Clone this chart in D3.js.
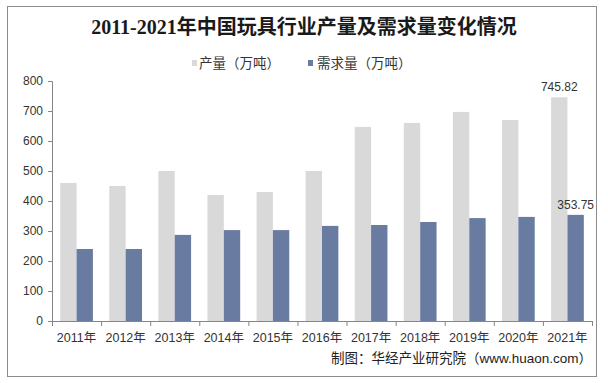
<!DOCTYPE html>
<html><head><meta charset="utf-8">
<script src="https://cdn.jsdelivr.net/npm/d3@7"></script>
<style>body{margin:0;background:#fff}svg{display:block}</style>
</head><body>
<svg id="c" width="608" height="383"></svg>
<script>
const categories = ["2011年","2012年","2013年","2014年","2015年","2016年","2017年","2018年","2019年","2020年","2021年"];
const production = [460, 450, 500, 420, 430, 500, 647, 660, 697, 670, 745.82];
const demand = [240, 240, 287, 303, 303, 317, 320, 330, 343, 347, 353.75];
const seriesNames = ["产量（万吨）", "需求量（万吨）"];
const seriesColors = ["#D9D9D9", "#6A7BA2"];
const yTicks = [0,100,200,300,400,500,600,700,800];
const title = "2011-2021年中国玩具行业产量及需求量变化情况";
const source = "制图：华经产业研究院（www.huaon.com）";

const svg = d3.select("#c");
const sans = "'Liberation Sans', Arial, 'Noto Sans CJK SC', sans-serif";

svg.append("rect").attr("x",7.5).attr("y",6.5).attr("width",589).attr("height",370)
  .attr("fill","#fff").attr("stroke","#8c8c8c").attr("stroke-width",1);

svg.append("text").attr("x",304).attr("y",34).attr("text-anchor","middle")
  .attr("font-family","'Liberation Serif','Noto Sans CJK SC',serif").attr("font-weight","bold")
  .attr("font-size",20).attr("fill","#1a1a1a").text(title);

const y = d3.scaleLinear().domain([0,800]).range([321,81]);
const x0 = d3.scaleBand().domain(categories).range([52,592]).padding(0);
const xi = d3.scaleBand().domain([0,1]).range([0,x0.bandwidth()]).paddingInner(0).paddingOuter(0.5);

// legend
const leg = [{x:192, tx:199},{x:308, tx:317}];
seriesNames.forEach((n,i)=>{
  svg.append("rect").attr("x",leg[i].x).attr("y",60).attr("width",5).attr("height",6).attr("fill",seriesColors[i]);
  svg.append("text").attr("x",leg[i].tx).attr("y",68).attr("font-family",sans).attr("font-size",13.5)
    .attr("fill","#333").text(n);
});

// bars
const data = [production, demand];
data.forEach((vals,si)=>{
  svg.append("g").selectAll("rect").data(vals).join("rect")
    .attr("x",(d,i)=>x0(categories[i])+xi(si))
    .attr("y",d=>y(d)).attr("width",xi.bandwidth()).attr("height",d=>y(0)-y(d))
    .attr("fill",seriesColors[si]);
});

// labels on last
const li = categories.length-1;
[production[li], demand[li]].forEach((v,si)=>{
  svg.append("text").attr("x",x0(categories[li])+xi(si)+xi.bandwidth()/2).attr("y",y(v)-6)
    .attr("text-anchor","middle").attr("font-family",sans).attr("font-size",12).attr("fill","#333")
    .text(d3.format(".2f")(v));
});

// y axis
const ya = svg.append("g").attr("transform","translate(52,0)")
  .call(d3.axisLeft(y).tickValues(yTicks).tickSize(4).tickPadding(5).tickFormat(d3.format("d")));
ya.select(".domain").attr("stroke","#868686");
ya.selectAll(".tick line").attr("stroke","#868686");
ya.selectAll("text").attr("font-family",sans).attr("font-size",12).attr("fill","#333");

// x axis
const xa = svg.append("g").attr("transform","translate(0,321)")
  .call(d3.axisBottom(x0).tickSize(0).tickPadding(12).tickSizeOuter(0));
xa.select(".domain").attr("stroke","#868686");
xa.selectAll("text").attr("font-family",sans).attr("font-size",12.5).attr("fill","#333");
const bounds = categories.map(c=>x0(c)).concat([x0.range()[1]]);
svg.append("g").selectAll("line").data(bounds).join("line")
  .attr("x1",d=>d+0.5).attr("x2",d=>d+0.5).attr("y1",321).attr("y2",326).attr("stroke","#868686");

svg.append("text").attr("x",592).attr("y",363).attr("text-anchor","end")
  .attr("font-family",sans).attr("font-size",13.5).attr("fill","#222").text(source);
</script>
</body></html>
